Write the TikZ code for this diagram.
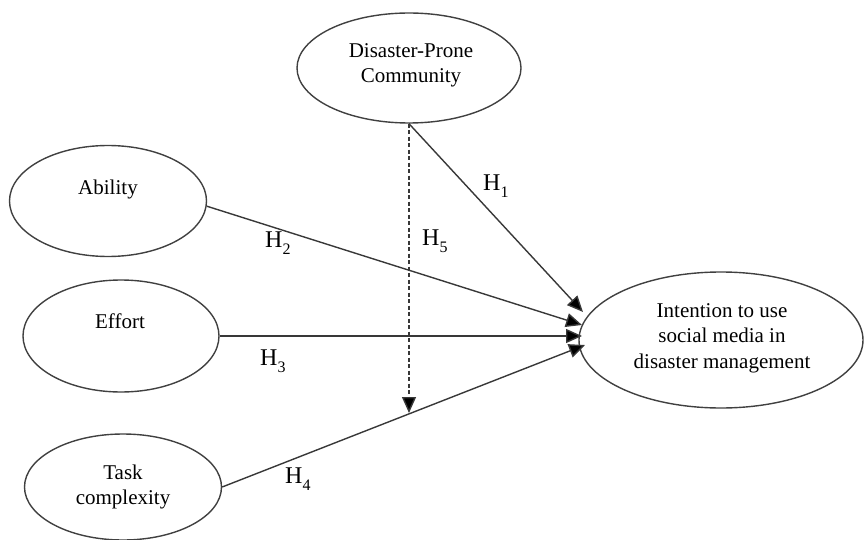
\documentclass[tikz,border=0pt]{standalone}
\usepackage{fontspec}
\setmainfont{Liberation Serif}
\usetikzlibrary{shapes.geometric,arrows.meta}
\newcommand{\hyplab}[1]{H\raisebox{-7pt}{\fontsize{16}{16}\selectfont #1}}
\begin{document}
\begin{tikzpicture}[x=1pt,y=-1pt,
  oval/.style={ellipse,draw=black!75,line width=1.4pt,inner sep=0pt},
  txt/.style={align=center,font=\fontsize{21}{25.5}\selectfont,inner sep=0pt},
  hyp/.style={anchor=base west,inner sep=0pt,font=\fontsize{24}{24}\selectfont},
  conn/.style={draw=black!78,line width=1.4pt,-{Triangle[length=16pt,width=14pt,fill=black]}},
  dconn/.style={conn,dash pattern=on 4pt off 2.5pt}]
\useasboundingbox (0,0) rectangle (864,540);

% ellipses
\node[oval,minimum width=224pt,minimum height=110pt] (dpc) at (409,68) {};
\node[oval,minimum width=197pt,minimum height=111pt] (ab) at (108,201) {};
\node[oval,minimum width=196pt,minimum height=112pt] (ef) at (121,336) {};
\node[oval,minimum width=197pt,minimum height=106pt] (tc) at (123,487) {};
\node[oval,minimum width=284pt,minimum height=136pt] (int) at (721,340) {};

% texts
\node[txt] (dpct) at (411,65.5) {Disaster-Prone\\Community};
\node[txt,anchor=base] (abt) at (108,195) {Ability};
\node[txt,anchor=base] (eft) at (120,328) {Effort};
\node[txt] (tct) at (123,487) {Task\\complexity};
\node[txt] (intt) at (722,338) {Intention to use\\social media in\\disaster management};

% arrow tips
\coordinate (t1) at (583,312);
\coordinate (t2) at (582,325);
\coordinate (t3) at (582,336);
\coordinate (t4) at (585,345);
\coordinate (t5) at (409,413);

% connectors
\draw[conn] (dpc.south) -- (t1);
\draw[conn] (ab.-3) -- (t2);
\draw[conn] (ef.east) -- (t3);
\draw[conn] (tc.east) -- (t4);
\draw[dconn] (dpc.south) -- (t5);

% hypothesis labels
\node[hyp] (h1) at (483,190) {\hyplab{1}};
\node[hyp] (h2) at (265,247) {\hyplab{2}};
\node[hyp] (h3) at (260,365) {\hyplab{3}};
\node[hyp] (h4) at (285,483) {\hyplab{4}};
\node[hyp] (h5) at (422,245) {\hyplab{5}};
\end{tikzpicture}
\end{document}
